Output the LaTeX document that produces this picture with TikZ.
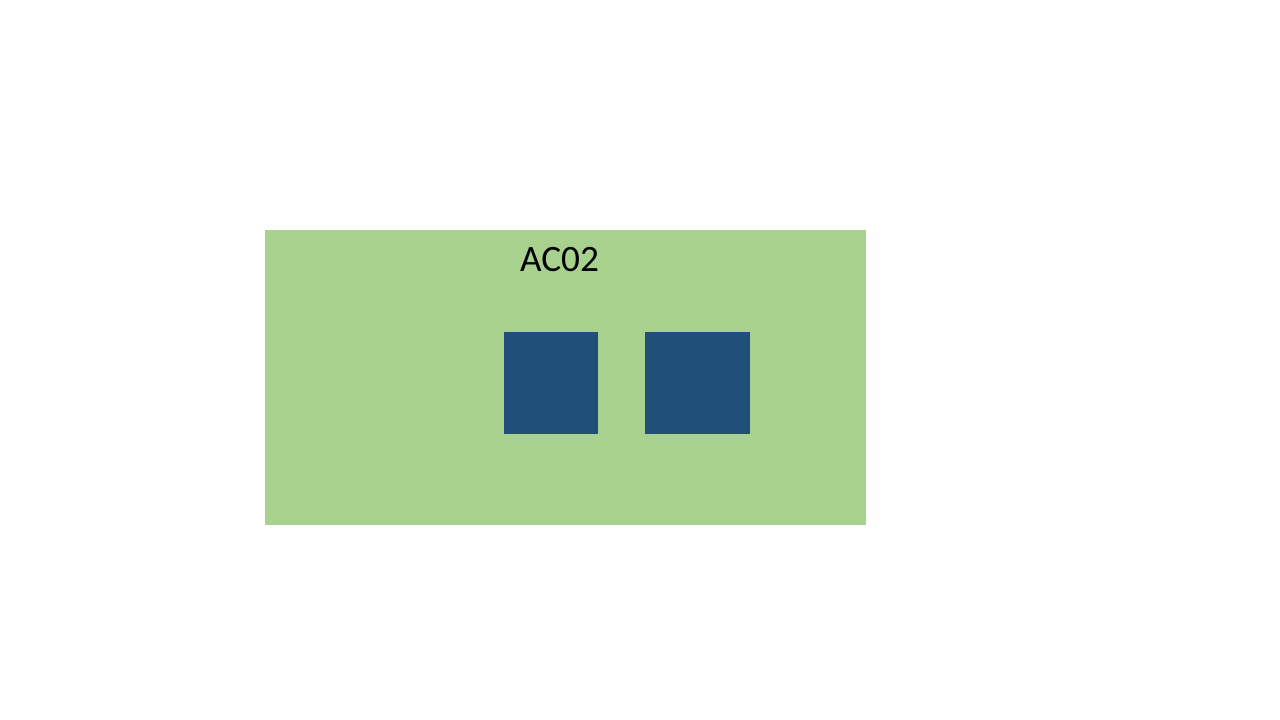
\documentclass[tikz,border=0pt]{standalone}
\usepackage{fontspec}
\setmainfont{Carlito}
\definecolor{zonegreen}{HTML}{A9D18E}
\definecolor{unitblue}{HTML}{1F4E79}

\begin{document}
\begin{tikzpicture}[zone/.style={fill=zonegreen, inner sep=0pt, minimum width=6.01cm, minimum height=2.95cm},
  unit/.style={fill=unitblue, inner sep=0pt, minimum height=1.02cm}]
  \useasboundingbox (0,0) rectangle (12.8,7.2);
  \node[zone] (ac02) at (5.655,3.425) {};
  \node[font=\fontsize{10.6}{12.7}\selectfont] (ac02label) at (5.595,4.60) {AC02};
  \node[unit, minimum width=0.94cm] (u1) at (5.51,3.37) {};
  \node[unit, minimum width=1.05cm] (u2) at (6.975,3.37) {};
\end{tikzpicture}
\end{document}
